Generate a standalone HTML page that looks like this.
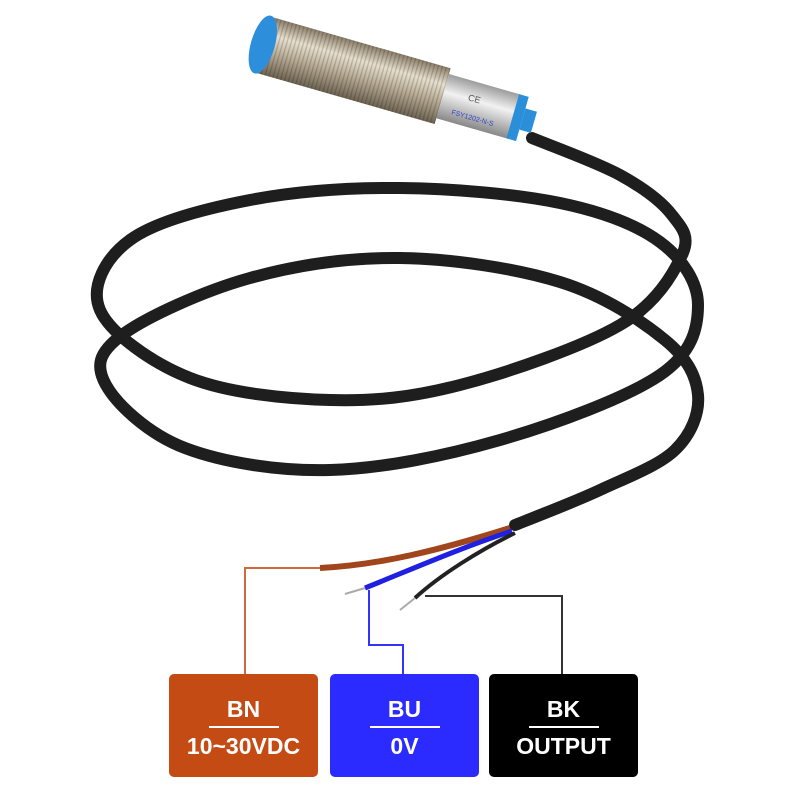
<!DOCTYPE html>
<html><head><style>
body{margin:0;background:#fff;width:800px;height:800px;overflow:hidden;position:relative;font-family:"Liberation Sans",sans-serif}
.box{position:absolute;top:674px;width:149px;height:103px;border-radius:5px;color:#fff;text-align:center;font-weight:bold;font-size:23px}
.box .a{position:absolute;top:22px;width:100%}
.box .l{position:absolute;top:52px;left:40px;width:70px;height:2px;background:#fff}
.box .b{position:absolute;top:59px;width:100%}
</style></head><body>
<svg width="800" height="800" style="position:absolute;left:0;top:0">
<defs>
<linearGradient id="m" x1="0" y1="0" x2="0" y2="1"><stop offset="0" stop-color="#8a7d68"/><stop offset="0.3" stop-color="#e8e0cf"/><stop offset="0.6" stop-color="#b9ad96"/><stop offset="1" stop-color="#6d6250"/></linearGradient>
<linearGradient id="s" x1="0" y1="0" x2="0" y2="1"><stop offset="0" stop-color="#9c9c9c"/><stop offset="0.4" stop-color="#f2f2f2"/><stop offset="1" stop-color="#888"/></linearGradient>
<pattern id="th" width="4" height="10" patternUnits="userSpaceOnUse"><rect width="1.3" height="10" fill="#000" opacity="0.18"/></pattern>
</defs>
<path id="cab" fill="none" stroke="#1e1e1e" stroke-width="12" stroke-linecap="round" stroke-linejoin="round"/>
<path d="M510,528 C440,550 380,565 320,568" stroke="#a0451c" stroke-width="6" fill="none"/>
<path d="M512,531 C460,548 410,570 365,588" stroke="#2020e0" stroke-width="5" fill="none"/>
<path d="M515,533 C480,550 440,575 415,598" stroke="#222" stroke-width="4" fill="none"/>
<path d="M365,588 L345,594 M415,598 L400,610" stroke="#aaa" stroke-width="2"/>
<polyline points="320,568 245,568 245,674" stroke="#d0693a" stroke-width="2" fill="none"/>
<polyline points="369,590 369,645 403,645 403,674" stroke="#3333ff" stroke-width="2" fill="none"/>
<polyline points="425,596 562,596 562,674" stroke="#333" stroke-width="2" fill="none"/>
<g transform="rotate(16 390 80)">
<rect x="255" y="52" width="190" height="58" fill="url(#m)"/>
<rect x="255" y="52" width="190" height="58" fill="url(#th)"/>
<rect x="445" y="58" width="75" height="46" fill="url(#s)"/>
<rect x="518" y="58" width="10" height="46" fill="#2a8fd8"/>
<rect x="528" y="70" width="12" height="22" fill="#2a8fd8"/>
<ellipse cx="258" cy="81" rx="12" ry="30" fill="#2d8fdc"/>
<text x="470" y="78" font-size="9" fill="#555">CE</text>
<text x="458" y="96" font-size="7" fill="#3344cc">FSY1202-N-S</text>
</g>
</svg>
<div class="box" style="left:169px;background:#c44b13"><div class="a">BN</div><div class="l"></div><div class="b">10~30VDC</div></div>
<div class="box" style="left:330px;background:#2b2bff"><div class="a">BU</div><div class="l"></div><div class="b">0V</div></div>
<div class="box" style="left:489px;background:#000"><div class="a">BK</div><div class="l"></div><div class="b">OUTPUT</div></div>
<script>
var p=[[532,138],[620,175],[672,215],[682,255],[620,325],[460,385],[330,400],[190,378],[100,310],[130,240],[250,200],[400,188],[560,203],[660,242],[698,305],[660,375],[500,440],[330,470],[185,448],[106,385],[122,335],[250,278],[400,258],[560,282],[665,340],[698,395],[675,450],[600,490],[515,525]];
var d="M"+p[0][0]+","+p[0][1];
for(var i=0;i<p.length-1;i++){var a=p[Math.max(i-1,0)],b=p[i],c=p[i+1],e=p[Math.min(i+2,p.length-1)];
d+=" C"+(b[0]+(c[0]-a[0])/6)+","+(b[1]+(c[1]-a[1])/6)+" "+(c[0]-(e[0]-b[0])/6)+","+(c[1]-(e[1]-b[1])/6)+" "+c[0]+","+c[1];}
document.getElementById("cab").setAttribute("d",d);
</script>
</body></html>
